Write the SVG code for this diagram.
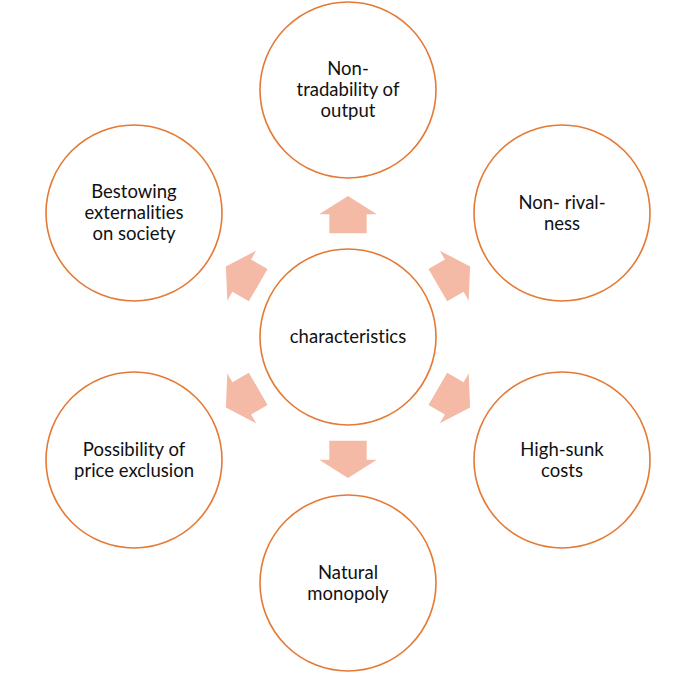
<svg xmlns="http://www.w3.org/2000/svg" width="685" height="677" viewBox="0 0 685 677">
<style>
.node circle{fill:#ffffff;stroke:#E47A35;stroke-width:1.6}
.node text{font-family:Lato,"Liberation Sans",sans-serif;font-size:18.5px;fill:#111111;text-anchor:middle;font-variant-ligatures:none}
.arr{fill:#F4BAA6}
</style>
<defs>
<polygon id="arrow" points="-18.7,-103.7 -18.7,-122.7 -28.85,-122.7 0,-141 28.85,-122.7 18.7,-122.7 18.7,-103.7"/>
</defs>
<rect width="685" height="677" fill="#ffffff"/>
<g id="connectors">
<use href="#arrow" class="arr" transform="translate(348,337) rotate(0)"/>
<use href="#arrow" class="arr" transform="translate(348,337) rotate(60)"/>
<use href="#arrow" class="arr" transform="translate(348,337) rotate(120)"/>
<use href="#arrow" class="arr" transform="translate(348,337) rotate(180)"/>
<use href="#arrow" class="arr" transform="translate(348,337) rotate(240)"/>
<use href="#arrow" class="arr" transform="translate(348,337) rotate(300)"/>
</g>
<g id="center" class="node">
<circle cx="348" cy="337" r="88"/>
<text x="348" y="343.3">characteristics</text>
</g>
<g id="top" class="node">
<circle cx="348" cy="90" r="88"/>
<text x="348" y="75">Non-</text>
<text x="348" y="96">tradability of</text>
<text x="348" y="117">output</text>
</g>
<g id="top-right" class="node">
<circle cx="562" cy="213" r="88"/>
<text x="562" y="209">Non- rival-</text>
<text x="562" y="230">ness</text>
</g>
<g id="bottom-right" class="node">
<circle cx="562" cy="460" r="88"/>
<text x="562" y="456">High-sunk</text>
<text x="562" y="477">costs</text>
</g>
<g id="bottom" class="node">
<circle cx="348" cy="583" r="88"/>
<text x="348" y="579">Natural</text>
<text x="348" y="600">monopoly</text>
</g>
<g id="bottom-left" class="node">
<circle cx="134" cy="460" r="88"/>
<text x="134" y="456">Possibility of</text>
<text x="134" y="477">price exclusion</text>
</g>
<g id="top-left" class="node">
<circle cx="134" cy="213" r="88"/>
<text x="134" y="198">Bestowing</text>
<text x="134" y="219">externalities</text>
<text x="134" y="240">on society</text>
</g>
</svg>
